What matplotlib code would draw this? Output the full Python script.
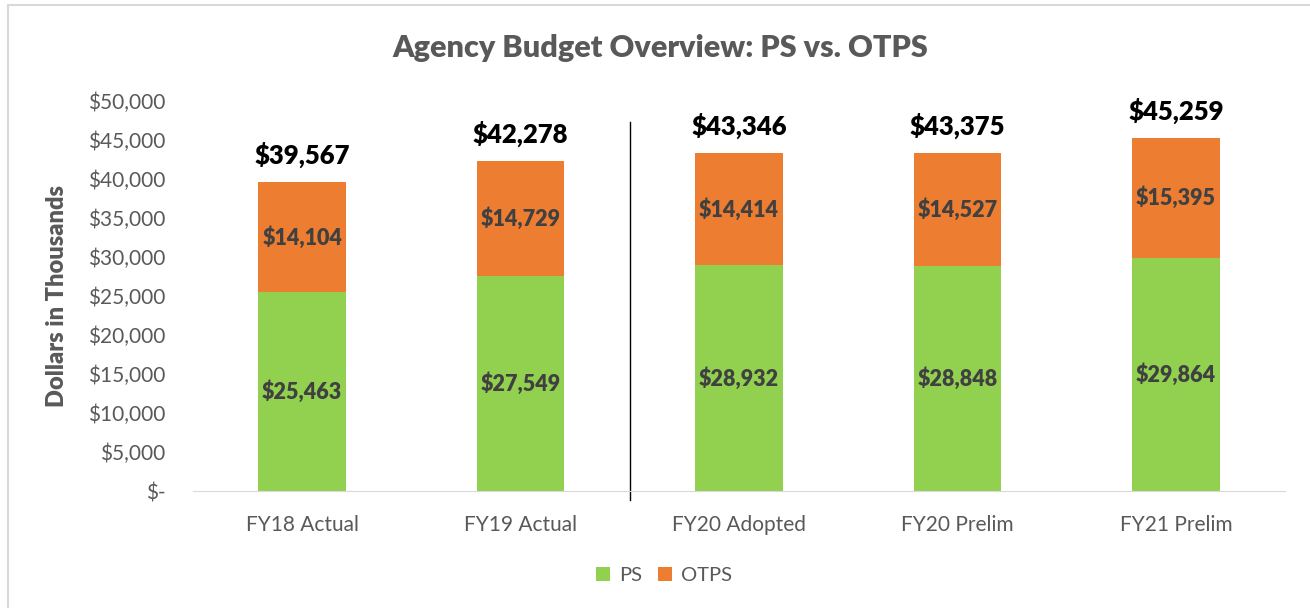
import numpy as np
import matplotlib
matplotlib.use("Agg")
import matplotlib.pyplot as plt
from matplotlib.patches import Rectangle

plt.rcParams['font.family'] = ['Lato', 'DejaVu Sans']

categories = ["FY18 Actual", "FY19 Actual", "FY20 Adopted", "FY20 Prelim", "FY21 Prelim"]
ps = [25463, 27549, 28932, 28848, 29864]
otps = [14104, 14729, 14414, 14527, 15395]
totals = [39567, 42278, 43346, 43375, 45259]

green = "#92D050"
orange = "#ED7D31"
grey = "#595959"

fig = plt.figure(figsize=(13.1, 6.08), dpi=100)
ax = fig.add_axes([0.1473, 0.1924, 0.8337, 0.6415])

x = np.arange(len(categories))
ax.bar(x, ps, width=0.4, color=green, label="PS")
ax.bar(x, otps, width=0.4, bottom=ps, color=orange, label="OTPS")

for i in range(len(categories)):
    ax.text(x[i], ps[i] / 2, f"${ps[i]:,}", ha="center", va="center",
            fontsize=15.5, fontweight="heavy", color="#404040")
    ax.text(x[i], ps[i] + otps[i] / 2, f"${otps[i]:,}", ha="center", va="center",
            fontsize=15.5, fontweight="heavy", color="#404040")
    ax.text(x[i], totals[i] + 1800, f"${totals[i]:,}", ha="center", va="bottom",
            fontsize=18.5, fontweight="heavy", color="black")

# divider between actuals and plan
ax.plot([1.5, 1.5], [-1200, 47300], color="black", lw=1, clip_on=False)

ax.set_xlim(-0.5, 4.5)
ax.set_ylim(0, 50000)
ax.set_yticks(np.arange(0, 50001, 5000))
ax.set_yticklabels(["$-"] + [f"${v:,}" for v in range(5000, 50001, 5000)])
ax.set_xticks(x)
ax.set_xticklabels(categories)
ax.tick_params(axis="both", length=0, labelsize=15, labelcolor=grey)
ax.tick_params(axis="x", pad=17)
ax.tick_params(axis="y", pad=20)
for s in ["top", "right", "left"]:
    ax.spines[s].set_visible(False)
ax.spines["bottom"].set_color("#d9d9d9")

ax.set_ylabel("Dollars in Thousands", fontsize=17, fontweight="heavy", color=grey)
ax.yaxis.set_label_coords(-0.1144, 0.5)
fig.text(0.504, 0.921, "Agency Budget Overview: PS vs. OTPS", ha="center", va="center",
         fontsize=22, fontweight="heavy", color=grey)

fig.legend(loc="center", bbox_to_anchor=(0.507, 0.054), ncol=2, frameon=False,
           fontsize=14.5, labelcolor=grey, handlelength=0.7, handleheight=0.7,
           handletextpad=0.45, columnspacing=0.8)

fig.patches.append(Rectangle((8 / 1310, -0.01), 1.0, 1 - 5 / 608 + 0.01, transform=fig.transFigure,
                             fill=False, edgecolor="#d9d9d9", lw=1.5))

fig.savefig("out.png", dpi=100)
